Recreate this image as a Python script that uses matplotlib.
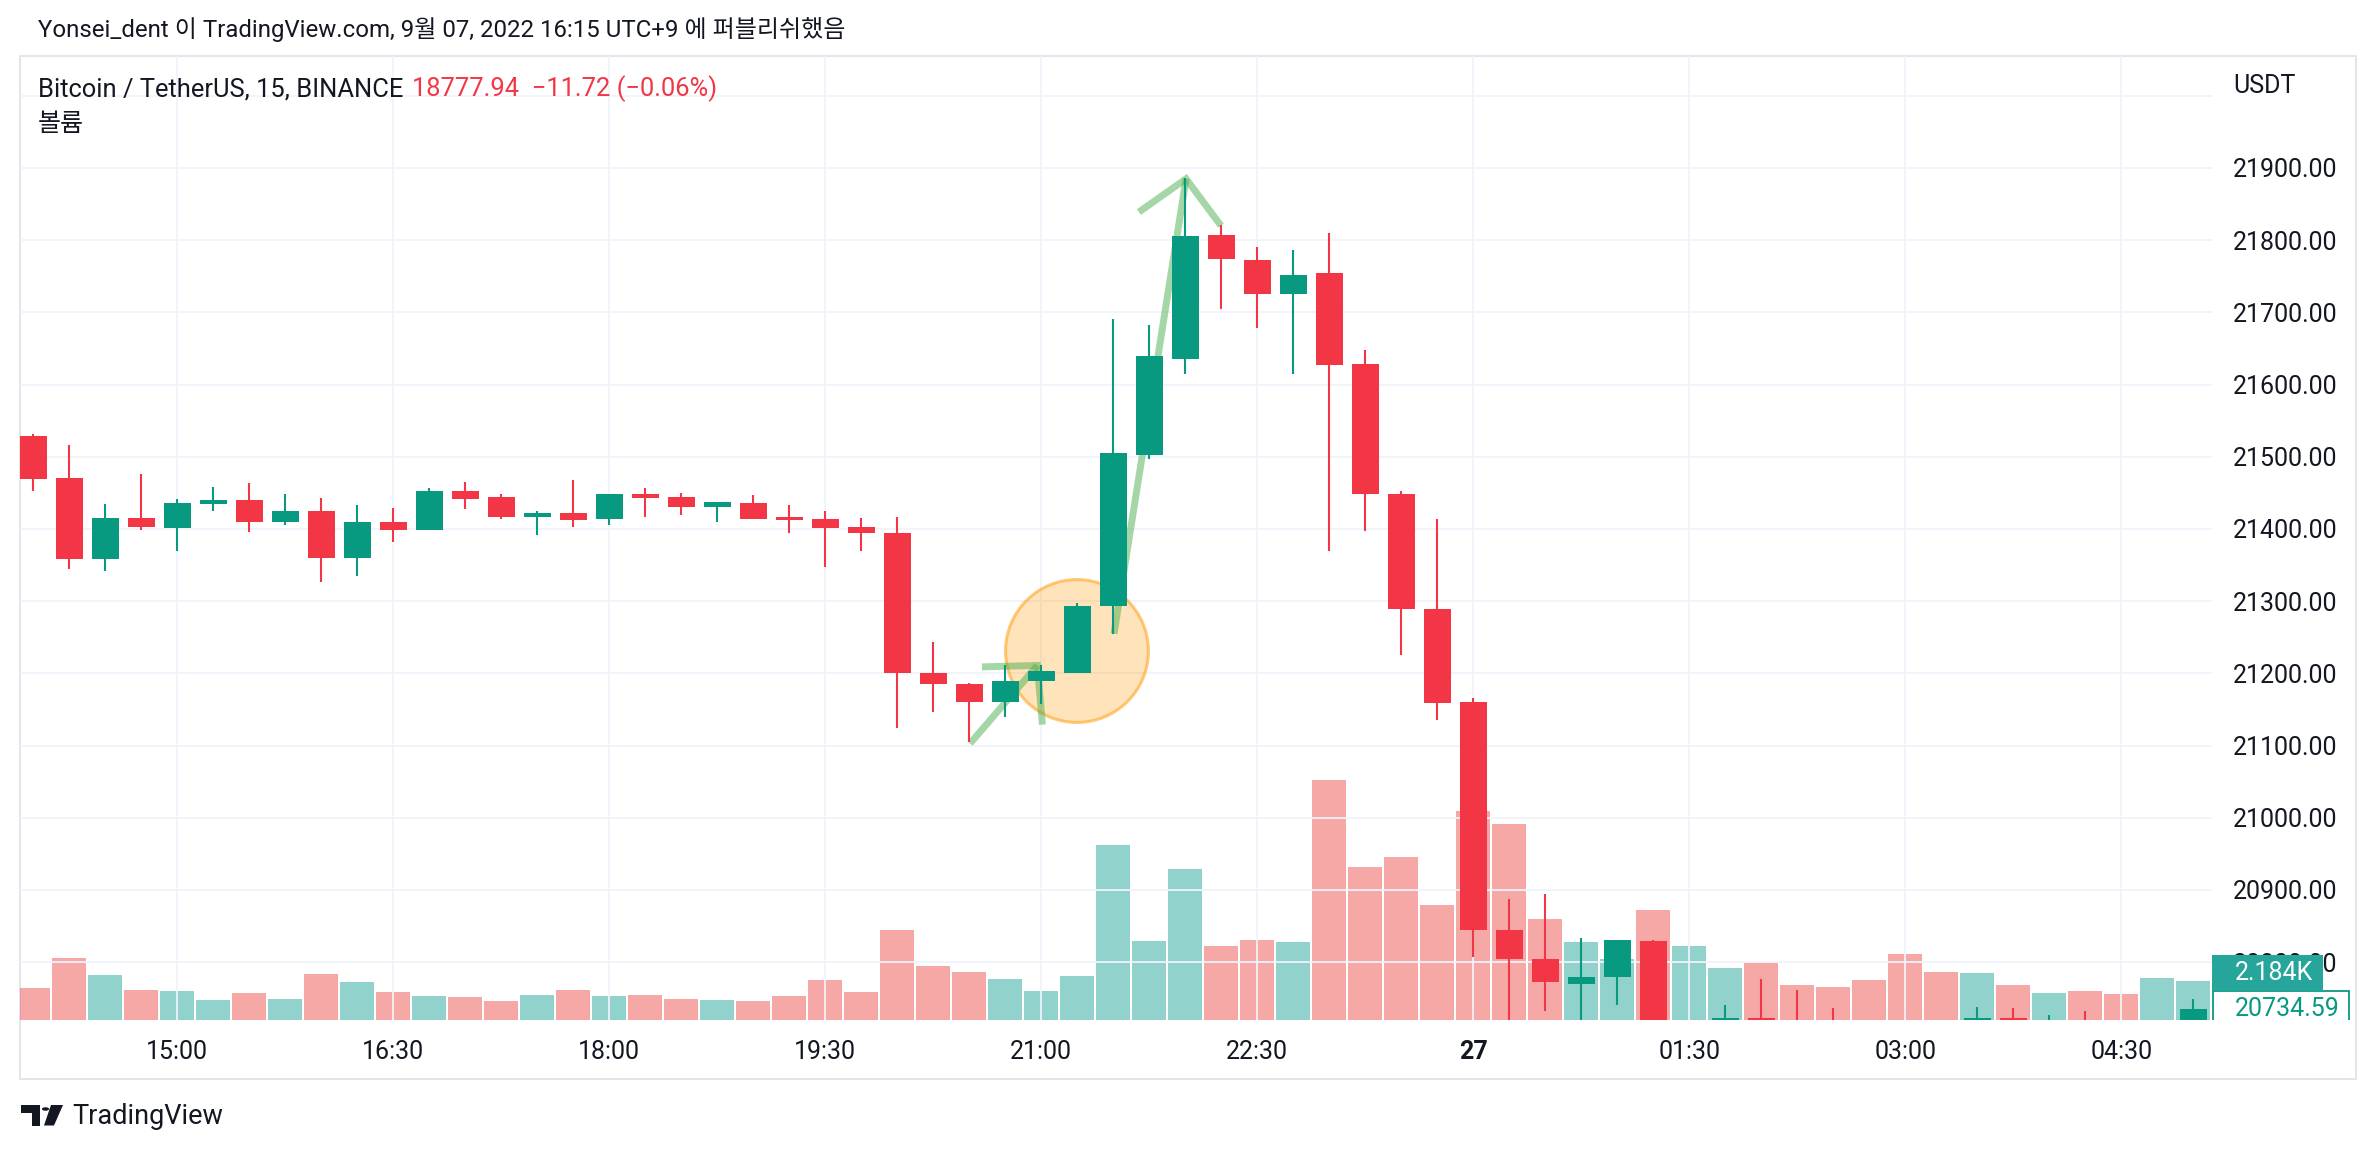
import numpy as np
import matplotlib
matplotlib.use("Agg")
import matplotlib.pyplot as plt
from matplotlib.patches import Rectangle, Ellipse, Polygon, Circle

plt.rcParams['font.family'] = ['Roboto', 'Noto Sans CJK KR', 'DejaVu Sans']

# ---------------- data (15-min candles, 14:00 -> 05:00) ----------------
times = ['14:00', '14:15', '14:30', '14:45', '15:00', '15:15', '15:30', '15:45',
         '16:00', '16:15', '16:30', '16:45', '17:00', '17:15', '17:30', '17:45',
         '18:00', '18:15', '18:30', '18:45', '19:00', '19:15', '19:30', '19:45',
         '20:00', '20:15', '20:30', '20:45', '21:00', '21:15', '21:30', '21:45',
         '22:00', '22:15', '22:30', '22:45', '23:00', '23:15', '23:30', '23:45',
         '00:00', '00:15', '00:30', '00:45', '01:00', '01:15', '01:30', '01:45',
         '02:00', '02:15', '02:30', '02:45', '03:00', '03:15', '03:30', '03:45',
         '04:00', '04:15', '04:30', '04:45', '05:00']
opens = [21529, 21470, 21358, 21415, 21402, 21434, 21440, 21409,
         21425, 21360, 21410, 21399, 21452, 21444, 21417, 21422,
         21414, 21448, 21444, 21431, 21436, 21417, 21414, 21403,
         21394, 21201, 21185, 21160, 21190, 21201, 21294, 21502,
         21636, 21807, 21773, 21726, 21754, 21628, 21449, 21289,
         21160, 20845, 20804, 20770, 20779, 20830, 20660, 20690,
         20722, 20700, 20690, 20675, 20655, 20630, 20620, 20723,
         20700, 20715, 20700, 20680, 20705]
highs = [21532, 21516, 21435, 21476, 21441, 21458, 21464, 21448,
         21443, 21433, 21429, 21457, 21465, 21448, 21425, 21468,
         21448, 21457, 21450, 21437, 21447, 21433, 21425, 21415,
         21417, 21243, 21186, 21211, 21211, 21298, 21691, 21683,
         21886, 21821, 21790, 21787, 21810, 21648, 21453, 21414,
         21166, 20888, 20894, 20834, 20831, 20831, 20705, 20741,
         20777, 20761, 20737, 20700, 20690, 20660, 20738, 20737,
         20727, 20733, 20712, 20715, 20749]
lows = [21453, 21345, 21342, 21398, 21369, 21425, 21396, 21405,
        21326, 21335, 21382, 21399, 21428, 21414, 21392, 21403,
        21405, 21416, 21420, 21409, 21414, 21395, 21347, 21370,
        21125, 21147, 21105, 21140, 21157, 21201, 21255, 21497,
        21615, 21704, 21679, 21615, 21370, 21397, 21226, 21136,
        20807, 20700, 20733, 20700, 20741, 20640, 20630, 20670,
        20680, 20680, 20660, 20640, 20610, 20600, 20610, 20680,
        20690, 20690, 20670, 20675, 20700]
closes = [21469, 21358, 21415, 21403, 21436, 21440, 21409, 21425,
          21360, 21410, 21398, 21452, 21442, 21417, 21422, 21413,
          21448, 21443, 21431, 21437, 21414, 21413, 21402, 21394,
          21200, 21185, 21160, 21190, 21203, 21294, 21505, 21639,
          21806, 21774, 21726, 21752, 21627, 21449, 21289, 21159,
          20844, 20804, 20772, 20780, 20831, 20660, 20690, 20722,
          20700, 20690, 20675, 20655, 20630, 20620, 20723, 20700,
          20715, 20700, 20680, 20705, 20734.59]
volumes = [1818, 3483, 2565, 1704, 1647, 1129, 1528, 1186,
           2622, 2160, 1590, 1357, 1300, 1072, 1414, 1704,
           1357, 1414, 1186, 1129, 1072, 1357, 2274, 1590,
           5090, 3078, 2736, 2331, 1647, 2508, 9964, 4457,
           8590, 4218, 4560, 4446, 13680, 8721, 9291, 6555,
           11913, 11172, 5757, 4446, 3477, 6270, 4218, 2964,
           3249, 1995, 1881, 2280, 3762, 2736, 2679, 1995,
           1539, 1653, 1482, 2394, 2184]

price_ticks = [20800, 20900, 21000, 21100, 21200, 21300, 21400, 21500,
               21600, 21700, 21800, 21900, 22000]
time_tick_labels = ['15:00', '16:30', '18:00', '19:30', '21:00', '22:30',
                    '27', '01:30', '03:00', '04:30']
time_tick_times = ['15:00', '16:30', '18:00', '19:30', '21:00', '22:30',
                   '00:00', '01:30', '03:00', '04:30']

last_price = 20734.59
last_volume_label = '2.184K'

# drawings (bar index, price)
arrow1_x = [26.02, 27.89]
arrow1_y = [21103, 21211]
arrow1_head_x = [26.35, 27.89, 28.03]
arrow1_head_y = [21209, 21211, 21129]
arrow2_x = [30.02, 32.02]
arrow2_y = [21255, 21885]
arrow2_head_x = [30.71, 32.02, 32.99]
arrow2_head_y = [21839, 21885, 21820]
circle_center = (28.99, 21231)
circle_size = (3.97, 198)

# ---------------- styling ----------------
W, H = 2377, 1154
TXT = '#131722'
UP, DN = '#089981', '#f23645'
VUP, VDN = '#26a69a', '#ef5350'
GRID = '#f0f3fa'
FRAME = '#e0e3eb'

def fx(x):
    return x / W

def fy(y):
    return 1 - y / H

PANE_L, PANE_R, PANE_T, PANE_B = 20, 2212, 56, 1019.5
FRAME_R, FRAME_B = 2355.5, 1079

fig = plt.figure(figsize=(W / 100, H / 100), dpi=100)
fig.patch.set_facecolor('white')

rect = [fx(PANE_L), fy(PANE_B), fx(PANE_R) - fx(PANE_L), fy(PANE_T) - fy(PANE_B)]
ax = fig.add_axes(rect)
ax_vol = ax.twinx()
ax.set_zorder(2)
ax_vol.set_zorder(1)
ax.patch.set_visible(False)
ax_vol.patch.set_facecolor('white')

o = np.array(opens, float)
h = np.array(highs, float)
l = np.array(lows, float)
c = np.array(closes, float)
v = np.array(volumes, float)
idx = np.arange(len(times))
up = c >= o
cols = np.where(up, UP, DN)
vcols = np.where(up, VUP, VDN)

YMIN, YMAX = 20720.6, 22055.1
ax.set_ylim(YMIN, YMAX)
ax.set_xlim(-0.372, 60.52)
ax_vol.set_ylim(0, 54920)

# volume
ax_vol.bar(idx, v, width=0.94, color=list(vcols), alpha=0.5, linewidth=0)
ax_vol.set_yticks([])
for s in ax_vol.spines.values():
    s.set_visible(False)

# grid + ticks
ax.set_yticks(price_ticks)
ax.set_yticklabels(['%.2f' % p if p < 22000 else '' for p in price_ticks])
tick_idx = [times.index(t) for t in time_tick_times]
ax.set_xticks(tick_idx)
ax.set_xticklabels(time_tick_labels)
ax.yaxis.tick_right()
ax.grid(True, color=GRID, lw=1.3)
ax.set_axisbelow(True)
ax.tick_params(axis='y', length=0, pad=15, labelsize=18, labelcolor=TXT)
ax.tick_params(axis='x', length=0, pad=15, labelsize=18, labelcolor=TXT)
for lab in ax.get_xticklabels():
    if lab.get_text() == '27':
        lab.set_fontweight('bold')
for s in ax.spines.values():
    s.set_visible(False)

# drawings
ax.add_patch(Ellipse(circle_center, circle_size[0], circle_size[1],
                     facecolor='#ff9800', alpha=0.27, edgecolor='none', zorder=3))
ax.add_patch(Ellipse(circle_center, circle_size[0], circle_size[1],
                     facecolor='none', edgecolor='#ff9800', alpha=0.5, lw=2.2, zorder=3))
for xs, ys in [(arrow1_x, arrow1_y), (arrow1_head_x, arrow1_head_y),
               (arrow2_x, arrow2_y), (arrow2_head_x, arrow2_head_y)]:
    ax.plot(xs, ys, color='#4caf50', alpha=0.5, lw=5, solid_capstyle='butt',
            solid_joinstyle='miter', zorder=4)

# candles
ax.vlines(idx, l, h, colors=list(cols), lw=1.5, zorder=5)
ax.bar(idx, np.maximum(np.abs(c - o), 1.0), bottom=np.minimum(o, c), width=0.76,
       color=list(cols), linewidth=0, zorder=6)

# price scale area (labels for last values)
ax_s = fig.add_axes([fx(PANE_R), fy(PANE_B), fx(FRAME_R) - fx(PANE_R), fy(PANE_T) - fy(PANE_B)])
ax_s.set_zorder(3)
ax_s.set_xlim(PANE_R, FRAME_R)
ax_s.set_ylim(YMIN, YMAX)
ax_s.axis('off')
ppx = (YMAX - YMIN) / (PANE_B - PANE_T)
half = 18 * ppx
ax_s.add_patch(Rectangle((2213, last_price - half), 2349 - 2213, 2 * half,
                         facecolor='white', edgecolor=UP, lw=1.3, zorder=3))
ax_s.text(2235, last_price, '%.2f' % last_price, color=UP, fontsize=18,
          va='center', ha='left', zorder=4)
ax_s.add_patch(Rectangle((2212, last_price + half), 2323 - 2212, 2 * half,
                         facecolor=VUP, edgecolor='none', zorder=3))
ax_s.text(2235, last_price + 2 * half, last_volume_label, color='white', fontsize=18,
          va='center', ha='left', zorder=4)

# frame
fig.add_artist(Rectangle((fx(PANE_L), fy(FRAME_B)), fx(FRAME_R) - fx(PANE_L),
                         fy(PANE_T) - fy(FRAME_B), transform=fig.transFigure,
                         facecolor='none', edgecolor=FRAME, lw=1.3))

# texts
fig.text(fx(38), fy(30), 'Yonsei_dent 이 TradingView.com, 9월 07, 2022 16:15 UTC+9 에 퍼블리쉬했음',
         fontsize=17.3, color=TXT, va='center', ha='left')
fig.text(fx(38), fy(89), 'Bitcoin / TetherUS, 15, BINANCE', fontsize=18.4, color=TXT,
         va='center', ha='left')
fig.text(fx(412), fy(89), '18777.94  \u221211.72 (\u22120.06%)', fontsize=18.4, color=DN,
         va='center', ha='left')
fig.text(fx(38), fy(124), '볼륨', fontsize=18, color=TXT, va='center', ha='left')
fig.text(fx(2233), fy(86), 'USDT', fontsize=18, color=TXT, va='center', ha='left')

# TradingView logo
def P(pts):
    return Polygon([(fx(x), fy(y)) for x, y in pts], closed=True, transform=fig.transFigure,
                   facecolor=TXT, edgecolor='none')
fig.add_artist(P([(21, 1105), (39.5, 1105), (39.5, 1125.5), (32, 1125.5), (32, 1112.5), (21, 1112.5)]))
fig.add_artist(Circle((fx(45.5), fy(1109)), 3.6 / W, transform=fig.transFigure,
                      facecolor=TXT, edgecolor='none'))
fig.add_artist(P([(51, 1105), (63, 1105), (54, 1125.5), (44, 1125.5)]))
fig.text(fx(72), fy(1116), 'TradingView', fontsize=19.5, color=TXT, va='center', ha='left')

fig.savefig('out.png', dpi=100, facecolor='white')
